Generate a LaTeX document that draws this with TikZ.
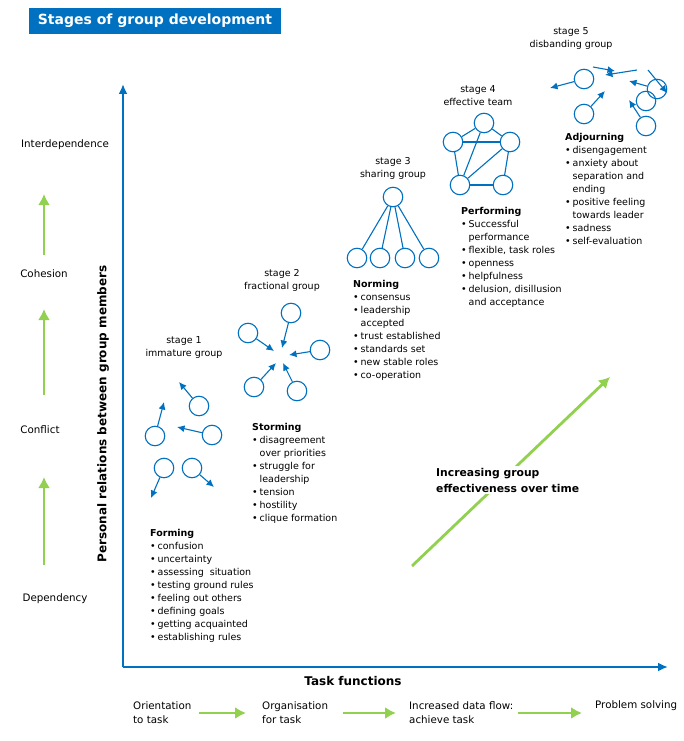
\documentclass[tikz,border=0pt]{standalone}
\usepackage{fontspec}
\setmainfont{DejaVu Sans}
\usepackage{xcolor}
\usepackage{tikz}
\usetikzlibrary{shapes,arrows.meta}
\definecolor{axisblue}{RGB}{0,112,192}
\definecolor{leafgreen}{RGB}{146,208,80}
\tikzstyle{person} = [circle, draw=axisblue, line width=1.1pt, minimum size=19.5pt, inner sep=0pt]
\tikzstyle{tie} = [draw=axisblue, line width=1.1pt]
\tikzstyle{drift} = [draw=axisblue, line width=1.1pt, -{Latex[length=7.5pt,width=7pt]}]
\tikzstyle{axisline} = [draw=axisblue, line width=2pt, -{Latex[length=10pt,width=9pt]}]
\tikzstyle{greenarrow} = [draw=leafgreen, line width=2.8pt, -{Latex[length=11pt,width=12pt]}]
\tikzstyle{stagelabel} = [align=center, font=\fontsize{9.5}{13}\selectfont]
\tikzstyle{phaselist} = [align=left, anchor=north west, inner sep=0pt, font=\fontsize{9.5}{13}\selectfont]
\tikzstyle{cue} = [font=\fontsize{10.3}{14}\selectfont]
\tikzstyle{taskcue} = [align=left, anchor=west, inner sep=0pt, font=\fontsize{10.3}{14}\selectfont]
\newcommand{\itm}[1]{\makebox[7.5pt][l]{\textbullet}#1}
\newcommand{\cnt}[1]{\hspace*{7.5pt}#1}

\begin{document}
\begin{tikzpicture}[x=1pt, y=-1pt]
  \useasboundingbox (0,0) rectangle (683,741);
  % Title and axes
  \node [fill=axisblue, text=white, font=\fontsize{14}{16}\selectfont\bfseries,
    minimum width=252pt, minimum height=26pt] (title) at (155,21) {Stages of group development};
  \coordinate (origin) at (123,667);
  \coordinate (ytip) at (123,84);
  \coordinate (xtip) at (668,667);
  \path [axisline] (origin) -- (ytip);
  \path [axisline] (origin) -- (xtip);
  \node [rotate=90, font=\fontsize{12}{14}\selectfont\bfseries] (ylabel) at (103,414)
    {Personal relations between group members};
  \node [font=\fontsize{12}{14}\selectfont\bfseries] (xlabel) at (353,681) {Task functions};

  % Relation levels
  \node [cue] (interdep) at (65,145) {Interdependence};
  \node [cue] (cohesion) at (44,274) {Cohesion};
  \node [cue] (conflict) at (40,430) {Conflict};
  \node [cue] (depend) at (55,599) {Dependency};
  \coordinate (g1a) at (44,565); \coordinate (g1b) at (44,477);
  \coordinate (g2a) at (44,395); \coordinate (g2b) at (44,309);
  \coordinate (g3a) at (44,255); \coordinate (g3b) at (44,194);
  \path [greenarrow] (g1a) -- (g1b);
  \path [greenarrow] (g2a) -- (g2b);
  \path [greenarrow] (g3a) -- (g3b);

  % Task functions
  \node [taskcue] (orient) at (133,713) {Orientation\\to task};
  \node [taskcue] (organise) at (262,713) {Organisation\\for task};
  \node [taskcue] (dataflow) at (409,713) {Increased data flow:\\achieve task};
  \node [taskcue] (solve) at (595,706) {Problem solving};
  \path [greenarrow, shorten <=7pt, shorten >=16pt] (orient.east) -- (organise.west);
  \path [greenarrow, shorten <=15pt, shorten >=13pt] (organise.east) -- (dataflow.west);
  \path [greenarrow, shorten <=5pt, shorten >=13pt] (dataflow.east) -- (dataflow.east -| solve.west);

  % Effectiveness arrow
  \coordinate (effstart) at (412,566);
  \coordinate (effend) at (610,377);
  \path [greenarrow] (effstart) -- (effend);
  \node [fill=white, align=left, inner sep=2pt, anchor=west,
    font=\fontsize{10.8}{16}\selectfont\bfseries] (effect) at (434,480)
    {Increasing group\\effectiveness over time};

  % Stage 1
  \node [stagelabel] (st1) at (184,347.5) {stage 1\\immature group};
  \node [person] (s1a) at (199,406) {};
  \node [person] (s1b) at (155,436) {};
  \node [person] (s1c) at (212,435) {};
  \node [person] (s1d) at (164,468) {};
  \node [person] (s1e) at (192,468) {};
  \coordinate (s1at) at (179,382);
  \coordinate (s1bt) at (164,402);
  \coordinate (s1ct) at (177,427);
  \coordinate (s1dt) at (151,498);
  \coordinate (s1et) at (214,487);
  \path [drift] (s1a) -- (s1at);
  \path [drift] (s1b) -- (s1bt);
  \path [drift] (s1c) -- (s1ct);
  \path [drift] (s1d) -- (s1dt);
  \path [drift] (s1e) -- (s1et);
  \node [phaselist] (forming) at (150,529) {\textbf{Forming}\\
    \itm{confusion}\\ \itm{uncertainty}\\ \itm{assessing\ \ situation}\\
    \itm{testing ground rules}\\ \itm{feeling out others}\\ \itm{defining goals}\\
    \itm{getting acquainted}\\ \itm{establishing rules}};

  % Stage 2
  \node [stagelabel] (st2) at (282,280) {stage 2\\fractional group};
  \node [person] (s2a) at (291,313) {};
  \node [person] (s2b) at (248,333) {};
  \node [person] (s2c) at (320,350) {};
  \node [person] (s2d) at (254,387) {};
  \node [person] (s2e) at (297,391) {};
  \coordinate (s2at) at (282,348);
  \coordinate (s2bt) at (274,351);
  \coordinate (s2ct) at (289,355);
  \coordinate (s2dt) at (276,363);
  \coordinate (s2et) at (283,363);
  \path [drift] (s2a) -- (s2at);
  \path [drift] (s2b) -- (s2bt);
  \path [drift] (s2c) -- (s2ct);
  \path [drift] (s2d) -- (s2dt);
  \path [drift] (s2e) -- (s2et);
  \node [phaselist] (storming) at (252,423) {\textbf{Storming}\\
    \itm{disagreement}\\ \cnt{over priorities}\\ \itm{struggle for}\\ \cnt{leadership}\\
    \itm{tension}\\ \itm{hostility}\\ \itm{clique formation}};

  % Stage 3
  \node [stagelabel] (st3) at (393,168.5) {stage 3\\sharing group};
  \node [person] (s3top) at (393,197) {};
  \foreach \x [count=\i] in {357,380,405,429}
    \node [person] (s3b\i) at (\x,258) {};
  \foreach \i in {1,...,4}
    \path [tie] (s3top) -- (s3b\i);
  \node [phaselist] (norming) at (353,280) {\textbf{Norming}\\
    \itm{consensus}\\ \itm{leadership}\\ \cnt{accepted}\\ \itm{trust established}\\
    \itm{standards set}\\ \itm{new stable roles}\\ \itm{co-operation}};

  % Stage 4
  \node [stagelabel] (st4) at (478,95.5) {stage 4\\effective team};
  \node [person] (s4t) at (484,123) {};
  \node [person] (s4l) at (453,142) {};
  \node [person] (s4r) at (510,142) {};
  \node [person] (s4bl) at (460,185) {};
  \node [person] (s4br) at (503,185) {};
  \path [tie] (s4t) -- (s4l);
  \path [tie] (s4t) -- (s4r);
  \path [tie] (s4l) -- (s4r);
  \path [tie] (s4l) -- (s4bl);
  \path [tie] (s4r) -- (s4br);
  \path [tie] (s4bl) -- (s4br);
  \path [tie] (s4t) -- (s4bl);
  \path [tie] (s4r) -- (s4bl);
  \node [phaselist] (performing) at (461,207) {\textbf{Performing}\\
    \itm{Successful}\\ \cnt{performance}\\ \itm{flexible, task roles}\\ \itm{openness}\\
    \itm{helpfulness}\\ \itm{delusion, disillusion}\\ \cnt{and acceptance}};

  % Stage 5
  \node [stagelabel] (st5) at (571,38.5) {stage 5\\disbanding group};
  \node [person] (s5a) at (584,79) {};
  \node [person] (s5b) at (584,114) {};
  \node [person] (s5c) at (657,89) {};
  \node [person] (s5d) at (646,101) {};
  \node [person] (s5e) at (646,126) {};
  \coordinate (s5at) at (550,88);
  \coordinate (s5bt) at (605,91);
  \coordinate (s5ct) at (629,81);
  \coordinate (s5et) at (629,100);
  \coordinate (s5fa) at (593,67); \coordinate (s5ft) at (615,71);
  \coordinate (s5ga) at (637,70); \coordinate (s5gt) at (605,75);
  \coordinate (s5ha) at (648,70); \coordinate (s5ht) at (667,93);
  \path [drift] (s5a) -- (s5at);
  \path [drift] (s5b) -- (s5bt);
  \path [drift] (s5c) -- (s5ct);
  \path [drift] (s5e) -- (s5et);
  \path [drift] (s5fa) -- (s5ft);
  \path [drift] (s5ga) -- (s5gt);
  \path [drift] (s5ha) -- (s5ht);
  \node [phaselist] (adjourning) at (565,133) {\textbf{Adjourning}\\
    \itm{disengagement}\\ \itm{anxiety about}\\ \cnt{separation and}\\ \cnt{ending}\\
    \itm{positive feeling}\\ \cnt{towards leader}\\ \itm{sadness}\\ \itm{self-evaluation}};
\end{tikzpicture}
\end{document}
